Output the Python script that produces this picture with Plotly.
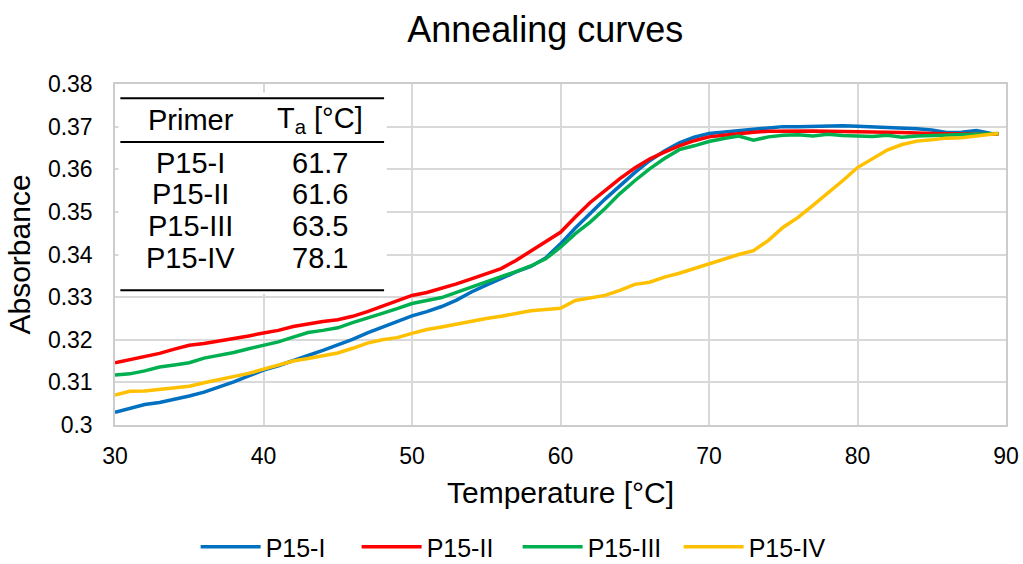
import plotly.graph_objects as go

temps = list(range(30, 90)) + [89.5]

p15_i = [0.3030, 0.3040, 0.3048, 0.3053, 0.3060, 0.3068, 0.3077, 0.3088, 0.3101, 0.3115,
         0.3129, 0.3139, 0.3150, 0.3163, 0.3175, 0.3187, 0.3201, 0.3216, 0.3229, 0.3244,
         0.3256, 0.3266, 0.3278, 0.3293, 0.3312, 0.3328, 0.3344, 0.3359, 0.3372, 0.3392,
         0.3425, 0.3462, 0.3496, 0.3530, 0.3561, 0.3592, 0.3620, 0.3643, 0.3662, 0.3675,
         0.3684, 0.3688, 0.3691, 0.3694, 0.3697, 0.3700, 0.3700, 0.3701, 0.3702, 0.3702,
         0.3701, 0.3700, 0.3699, 0.3698, 0.3695, 0.3692, 0.3686, 0.3687, 0.3691, 0.3684,
         0.3683]
p15_ii = [0.3146, 0.3153, 0.3160, 0.3168, 0.3178, 0.3187, 0.3191, 0.3197, 0.3201, 0.3209,
          0.3216, 0.3222, 0.3231, 0.3238, 0.3243, 0.3247, 0.3255, 0.3266, 0.3278, 0.3291,
          0.3304, 0.3311, 0.3320, 0.3331, 0.3343, 0.3355, 0.3367, 0.3386, 0.3408, 0.3430,
          0.3452, 0.3488, 0.3522, 0.3550, 0.3578, 0.3603, 0.3624, 0.3640, 0.3655, 0.3667,
          0.3676, 0.3680, 0.3684, 0.3687, 0.3689, 0.3690, 0.3690, 0.3690, 0.3689, 0.3689,
          0.3689, 0.3688, 0.3687, 0.3686, 0.3684, 0.3684, 0.3683, 0.3682, 0.3683, 0.3682,
          0.3683]
p15_iii = [0.3117, 0.3120, 0.3127, 0.3136, 0.3141, 0.3146, 0.3157, 0.3163, 0.3170, 0.3179,
           0.3187, 0.3195, 0.3206, 0.3217, 0.3222, 0.3228, 0.3240, 0.3250, 0.3262, 0.3273,
           0.3285, 0.3292, 0.3299, 0.3311, 0.3324, 0.3337, 0.3348, 0.3360, 0.3373, 0.3390,
           0.3417, 0.3449, 0.3476, 0.3508, 0.3543, 0.3573, 0.3601, 0.3625, 0.3646, 0.3655,
           0.3665, 0.3672, 0.3678, 0.3668, 0.3676, 0.3680, 0.3681, 0.3678, 0.3682, 0.3679,
           0.3678, 0.3677, 0.3680, 0.3675, 0.3678, 0.3679, 0.3681, 0.3680, 0.3683, 0.3684,
           0.3684]
p15_iv = [0.3070, 0.3079, 0.3080, 0.3084, 0.3087, 0.3091, 0.3099, 0.3106, 0.3113, 0.3121,
          0.3131, 0.3141, 0.3150, 0.3156, 0.3163, 0.3169, 0.3180, 0.3192, 0.3200, 0.3205,
          0.3215, 0.3224, 0.3230, 0.3237, 0.3242, 0.3250, 0.3255, 0.3262, 0.3268, 0.3271,
          0.3274, 0.3292, 0.3299, 0.3304, 0.3316, 0.3330, 0.3335, 0.3347, 0.3356, 0.3367,
          0.3379, 0.3391, 0.3400, 0.3409, 0.3433, 0.3464, 0.3487, 0.3515, 0.3543, 0.3573,
          0.3604, 0.3624, 0.3645, 0.3658, 0.3666, 0.3669, 0.3673, 0.3674, 0.3677, 0.3682,
          0.3684]

series_names = ["P15-I", "P15-II", "P15-III", "P15-IV"]
series_colors = ["#0070C0", "#FF0000", "#00B050", "#FFC000"]
series_values = [p15_i, p15_ii, p15_iii, p15_iv]

table_primers = ["P15-I", "P15-II", "P15-III", "P15-IV"]
table_ta = ["61.7", "61.6", "63.5", "78.1"]

FONT = "Arial, Liberation Sans, sans-serif"

fig = go.Figure()
for name, color, vals in zip(series_names, series_colors, series_values):
    fig.add_trace(go.Scatter(x=temps, y=vals, mode="lines", name=name,
                             line=dict(color=color, width=3.5)))

# table inset (white box + rules)
fig.add_shape(type="rect", xref="paper", yref="paper", x0=0.004, x1=0.305, y0=0.385, y1=0.975,
              fillcolor="white", line=dict(width=0), layer="above")
for yy in [0.958, 0.830, 0.395]:
    fig.add_shape(type="line", xref="paper", yref="paper", x0=0.006, x1=0.302, y0=yy, y1=yy,
                  line=dict(color="black", width=2), layer="above")

col1_x, col2_x = 0.085, 0.230
tfont = dict(size=29, family=FONT, color="black")
fig.add_annotation(xref="paper", yref="paper", x=col1_x, y=0.893, text="Primer",
                   xanchor="center", yanchor="middle", showarrow=False, font=tfont)
fig.add_annotation(xref="paper", yref="paper", x=col2_x, y=0.893, text="T<sub>a</sub> [°C]",
                   xanchor="center", yanchor="middle", showarrow=False, font=tfont)
row_y = [0.768, 0.677, 0.584, 0.490]
for p, t, yy in zip(table_primers, table_ta, row_y):
    fig.add_annotation(xref="paper", yref="paper", x=col1_x, y=yy, text=p,
                       xanchor="center", yanchor="middle", showarrow=False, font=tfont)
    fig.add_annotation(xref="paper", yref="paper", x=col2_x, y=yy, text=t,
                       xanchor="center", yanchor="middle", showarrow=False, font=tfont)

fig.update_layout(
    width=1023, height=564,
    paper_bgcolor="white", plot_bgcolor="white",
    margin=dict(l=115, r=17, t=84, b=139, autoexpand=False),
    font=dict(family=FONT, color="#000000"),
    title=dict(text="Annealing curves", x=0.533, xanchor="center", y=0.947, yanchor="middle",
               font=dict(size=36, family=FONT, color="black")),
    showlegend=True,
    legend=dict(orientation="h", xref="container", x=0.506, xanchor="center",
                yref="container", y=0.03, yanchor="middle",
                font=dict(size=25, family=FONT, color="black"),
                itemwidth=60, entrywidth=86, entrywidthmode="pixels", tracegroupgap=0),
)
fig.update_xaxes(range=[30, 90], dtick=10, tick0=30, showgrid=True, gridcolor="#d9d9d9",
                 gridwidth=1.5, zeroline=False, showline=True, linecolor="#cccccc", linewidth=1.5,
                 mirror=True, ticks="", ticklabelstandoff=10, automargin=False,
                 tickfont=dict(size=23, family=FONT, color="black"),
                 title=dict(text="Temperature [°C]", standoff=14,
                            font=dict(size=30, family=FONT, color="black")))
fig.update_yaxes(range=[0.30, 0.38], dtick=0.01, tick0=0.30, showgrid=True, gridcolor="#d9d9d9",
                 gridwidth=1.5, zeroline=False, showline=True, linecolor="#cccccc", linewidth=1.5,
                 mirror=True, ticks="", ticklabelstandoff=16, tickformat="~g", automargin=False,
                 tickfont=dict(size=23, family=FONT, color="black"),
                 title=dict(text="Absorbance", standoff=8,
                            font=dict(size=30, family=FONT, color="black")))

fig.write_html("out.html", config={"displayModeBar": False},
               post_script="document.body.style.margin='0';")
